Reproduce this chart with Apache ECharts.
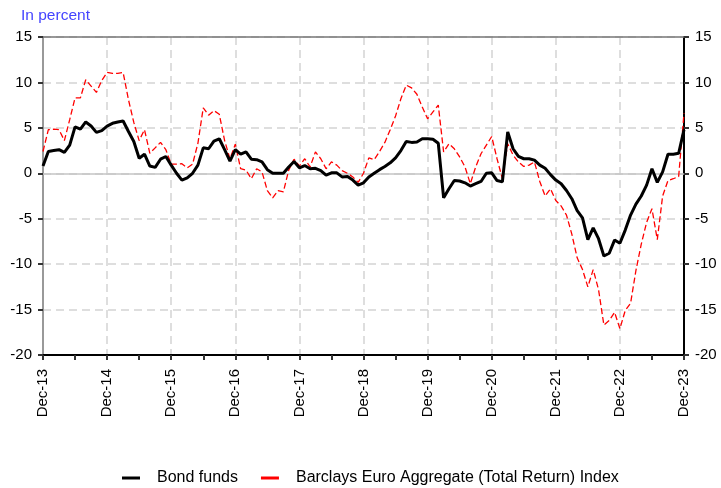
<!DOCTYPE html>
<html>
<head>
<meta charset="utf-8">
<script src="https://cdn.jsdelivr.net/npm/echarts@6/dist/echarts.min.js"></script>
<style>
  html, body { margin: 0; padding: 0; background: #fff; }
  #chart { width: 721px; height: 488px; }
</style>
</head>
<body>
<div id="chart"></div>
<script>
// monthly, Dec-13 .. Dec-23
const monthNames = ['Jan', 'Feb', 'Mar', 'Apr', 'May', 'Jun', 'Jul', 'Aug', 'Sep', 'Oct', 'Nov', 'Dec']
const months = []
for (let i = 0; i <= 120; i++) {
  const m = (11 + i) % 12
  const y = 13 + Math.floor((11 + i) / 12)
  months.push(monthNames[m] + '-' + y)
}

const bondFunds = [
  0.8, 2.4, 2.5, 2.6, 2.3, 3.1, 5.1, 4.85, 5.65, 5.2, 4.5, 4.7,
  5.2, 5.5, 5.65, 5.75, 4.6, 3.5, 1.65, 2.1, 0.8, 0.65, 1.55, 1.85,
  0.9, 0.0, -0.75, -0.5, 0.0, 0.9, 2.8, 2.7, 3.55, 3.8, 2.6, 1.35,
  2.6, 2.1, 2.35, 1.55, 1.5, 1.25, 0.4, 0.0, 0.0, 0.0, 0.7, 1.3,
  0.6, 0.85, 0.5, 0.55, 0.3, -0.2, 0.05, 0.05, -0.4, -0.35, -0.75, -1.3,
  -1.05, -0.4, 0.0, 0.4, 0.75, 1.15, 1.7, 2.5, 3.5, 3.4, 3.45, 3.8,
  3.8, 3.75, 3.3, -2.7, -1.7, -0.8, -0.85, -1.05, -1.4, -1.15, -0.9, 0.0,
  0.05, -0.8, -0.95, 4.55, 2.7, 1.85, 1.6, 1.6, 1.45, 0.9, 0.55, -0.15,
  -0.75, -1.15, -1.9, -2.8, -4.1, -4.9, -7.3, -6.0, -7.2, -9.1, -8.8, -7.35,
  -7.7, -6.25, -4.6, -3.4, -2.5, -1.3, 0.5, -1.0, 0.15, 2.1, 2.1, 2.2,
  4.8
]

const barclaysIndex = [
  2.4, 4.8, 4.85, 4.8, 3.6, 5.9, 8.3, 8.3, 10.3, 9.6, 8.9, 10.2,
  11.1, 11.0, 11.0, 11.1, 8.1, 5.6, 3.6, 4.8, 2.2, 2.8, 3.4, 2.6,
  1.0, 1.0, 1.05, 0.6, 1.0, 3.3, 7.2, 6.4, 6.9, 6.5, 3.6, 1.6,
  3.2, 0.5, 0.35, -0.6, 0.5, 0.15, -1.9, -2.7, -1.9, -2.05, 0.35, 1.55,
  0.8, 1.6, 0.7, 2.35, 1.6, 0.5, 1.25, 0.9, 0.3, 0.0, -0.4, -1.0,
  0.0, 1.7, 1.5, 2.4, 3.4, 4.8, 6.3, 8.2, 9.7, 9.4, 8.7, 7.3,
  6.0, 6.75, 7.5, 2.35, 3.25, 2.7, 1.8, 0.7, -1.15, 0.7, 2.15, 3.1,
  4.05, 1.6, -0.6, 3.25, 2.0, 1.25, 0.75, 0.9, 1.25, -0.9, -2.5, -1.7,
  -3.0, -3.6, -4.6, -6.7, -9.3, -10.6, -12.5, -10.6, -12.8, -16.7, -16.2, -15.3,
  -17.1, -15.1, -14.3, -10.7, -7.8, -5.4, -3.9, -7.3, -2.5, -0.8, -0.6, -0.35,
  6.6
]

const chart = echarts.init(document.getElementById('chart'))
const font = 'Liberation Sans, Arial, sans-serif'

const yAxisBase = {
  type: 'value',
  min: -20,
  max: 15,
  interval: 5,
  axisTick: { show: true, length: 5, lineStyle: { color: '#333', width: 2 } },
  axisLabel: { color: '#000', fontSize: 15, fontFamily: font, margin: 11 },
}

chart.setOption({
  animation: false,
  backgroundColor: '#fff',
  title: {
    text: 'In percent',
    left: 16,
    top: 3,
    textStyle: { color: '#4444ff', fontSize: 15.5, fontWeight: 'normal', fontFamily: font },
  },
  grid: { left: 43, right: 37, top: 37, bottom: 133 },
  legend: {
    top: 465,
    left: 117,
    itemWidth: 18,
    itemHeight: 3,
    itemGap: 23,
    icon: 'rect',
    textStyle: { color: '#000', fontSize: 16, fontFamily: font, padding: [0, 0, 0, 12] },
    data: [
      { name: 'Bond funds', itemStyle: { color: '#000' } },
      { name: 'Barclays Euro Aggregate (Total Return) Index', itemStyle: { color: '#ff0000' } },
    ],
  },
  xAxis: [
    {
      type: 'category',
      data: months,
      boundaryGap: false,
      axisLine: { onZero: false, lineStyle: { color: '#000', width: 2 } },
      axisTick: { interval: 5, length: 5, lineStyle: { color: '#333', width: 2 } },
      axisLabel: {
        interval: 11,
        rotate: 90,
        color: '#000',
        fontSize: 15,
        fontFamily: font,
        margin: 14,
      },
      splitLine: {
        show: true,
        interval: 11,
        lineStyle: { color: '#d4d4d4', type: [8, 5], width: 1.5 },
      },
    },
    {
      type: 'category',
      data: months,
      position: 'top',
      boundaryGap: false,
      axisLine: { onZero: false, lineStyle: { color: '#777', width: 1.5 } },
      axisTick: { show: false },
      axisLabel: { show: false },
      splitLine: { show: false },
    },
  ],
  yAxis: [
    Object.assign({}, yAxisBase, {
      position: 'left',
      axisLine: { show: true, lineStyle: { color: '#999', width: 2 } },
      splitLine: { show: true, lineStyle: { color: '#d4d4d4', type: [8, 5], width: 1.5 } },
    }),
    Object.assign({}, yAxisBase, {
      position: 'right',
      axisLine: { show: true, lineStyle: { color: '#000', width: 2 } },
      splitLine: { show: false },
    }),
  ],
  series: [
    {
      name: 'Barclays Euro Aggregate (Total Return) Index',
      type: 'line',
      data: barclaysIndex,
      showSymbol: false,
      lineStyle: { color: '#ff0000', width: 1.3, type: [6, 3] },
      itemStyle: { color: '#ff0000' },
      z: 3,
      markLine: {
        silent: true,
        symbol: 'none',
        label: { show: false },
        lineStyle: { color: '#c4c4c4', type: 'solid', width: 1.5 },
        data: [{ yAxis: 0 }],
        z: 1,
      },
    },
    {
      name: 'Bond funds',
      type: 'line',
      data: bondFunds,
      showSymbol: false,
      lineStyle: { color: '#000', width: 3 },
      itemStyle: { color: '#000' },
      z: 4,
    },
  ],
})
</script>
</body>
</html>
